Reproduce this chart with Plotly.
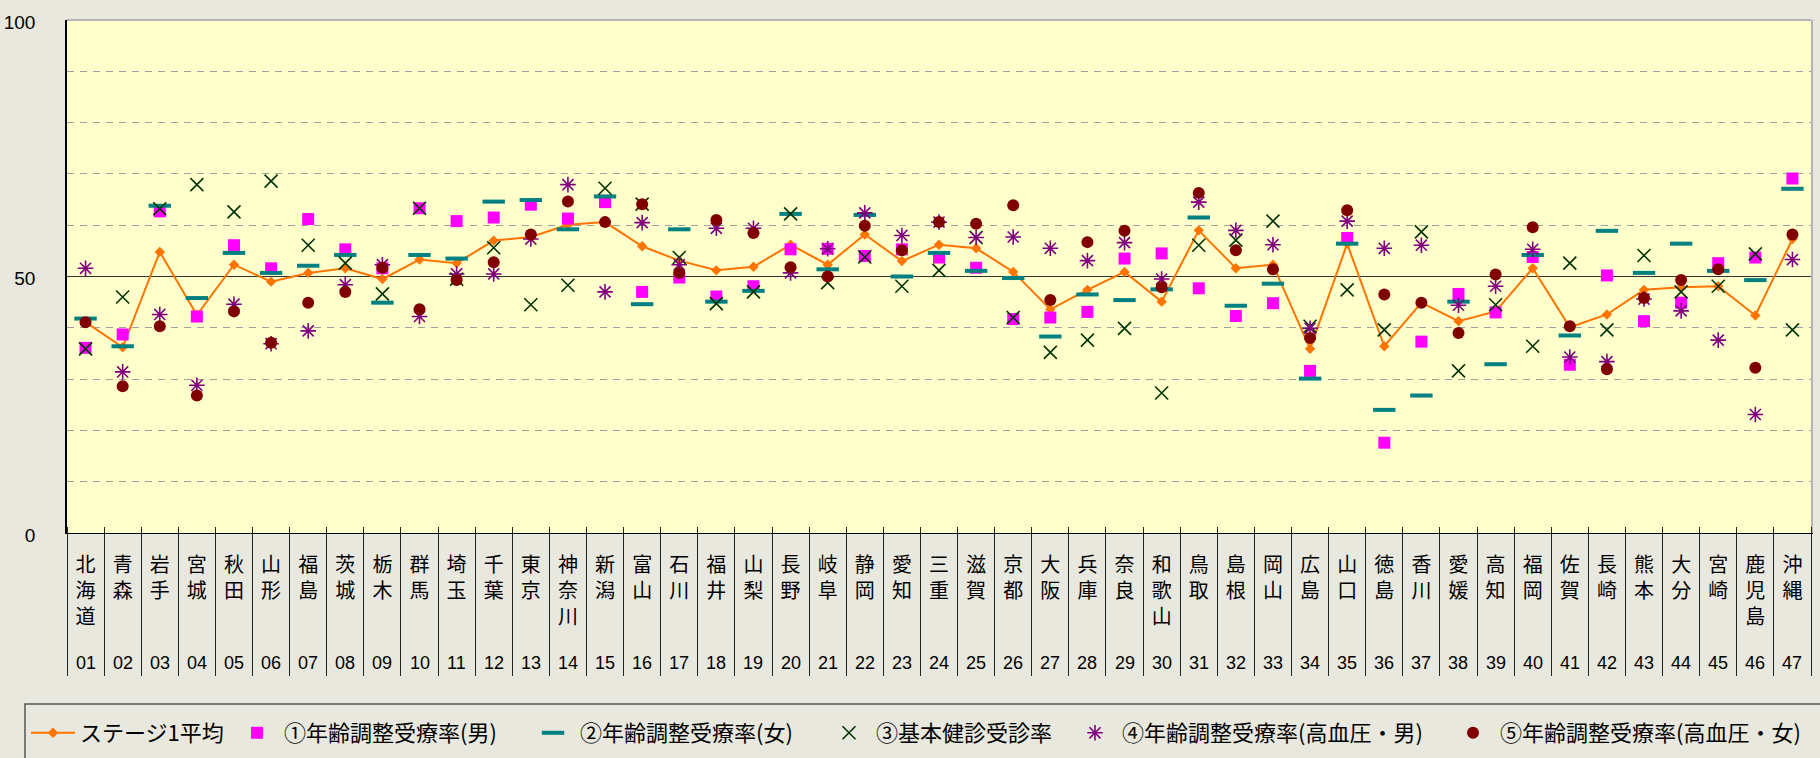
import plotly.graph_objects as go

prefectures = ["北海道", "青森", "岩手", "宮城", "秋田", "山形", "福島", "茨城", "栃木", "群馬",
               "埼玉", "千葉", "東京", "神奈川", "新潟", "富山", "石川", "福井", "山梨", "長野",
               "岐阜", "静岡", "愛知", "三重", "滋賀", "京都", "大阪", "兵庫", "奈良", "和歌山",
               "鳥取", "島根", "岡山", "広島", "山口", "徳島", "香川", "愛媛", "高知", "福岡",
               "佐賀", "長崎", "熊本", "大分", "宮崎", "鹿児島", "沖縄"]
codes = ["%02d" % (i + 1) for i in range(47)]

stage1_avg = [41.1, 36.2, 54.8, 42.5, 52.3, 49.0, 50.7, 51.6, 49.5, 53.3,
              52.6, 57.0, 57.7, 60.1, 60.6, 55.9, 53.1, 51.2, 51.9, 56.2,
              52.3, 58.2, 53.0, 56.2, 55.5, 50.9, 43.6, 47.4, 50.9, 45.1,
              59.0, 51.6, 52.3, 35.9, 56.4, 36.4, 44.9, 41.3, 43.2, 51.6,
              40.1, 42.6, 47.4, 47.9, 48.1, 42.4, 57.3]
rate_male = [36.1, 38.7, 62.7, 42.2, 56.1, 51.6, 61.2, 55.3, 51.6, 63.3,
             60.8, 61.5, 64.0, 61.3, 64.5, 47.0, 49.8, 46.1, 48.1, 55.3,
             55.4, 54.0, 55.3, 53.7, 51.7, 41.7, 42.0, 43.1, 53.5, 54.5,
             47.7, 42.3, 44.8, 31.6, 57.5, 17.6, 37.3, 46.6, 43.0, 53.8,
             32.8, 50.2, 41.3, 44.9, 52.6, 53.7, 69.1]
rate_female = [41.8, 36.4, 63.8, 45.8, 54.6, 50.7, 52.1, 54.2, 44.9, 54.2,
               53.5, 64.6, 64.9, 59.2, 65.6, 44.6, 59.2, 45.1, 47.2, 62.2,
               51.4, 62.0, 50.0, 54.6, 51.1, 49.7, 38.3, 46.5, 45.4, 47.5,
               61.5, 44.3, 48.6, 30.1, 56.4, 24.0, 26.8, 45.1, 32.9, 54.2,
               38.5, 58.9, 50.7, 56.4, 51.1, 49.3, 67.1]
checkup_rate = [35.9, 46.0, 63.2, 67.9, 62.6, 68.6, 56.1, 52.6, 46.6, 63.3,
                49.5, 55.6, 44.5, 48.3, 67.2, 64.1, 53.7, 44.7, 47.0, 62.2,
                48.8, 53.8, 48.1, 51.2, 57.6, 42.0, 35.2, 37.6, 39.9, 27.3,
                56.1, 57.1, 60.8, 40.3, 47.4, 39.6, 58.7, 31.6, 44.5, 36.4,
                52.6, 39.6, 54.1, 47.0, 48.1, 54.4, 39.6]
hbp_male = [51.6, 31.4, 42.6, 28.8, 44.6, 36.9, 39.4, 48.4, 52.3, 42.2,
            50.5, 50.5, 57.3, 67.9, 47.0, 60.5, 52.3, 59.4, 59.4, 50.7,
            55.4, 62.4, 58.0, 60.6, 57.6, 57.7, 55.5, 53.1, 56.6, 49.5,
            64.5, 59.0, 56.2, 39.9, 60.8, 55.5, 56.1, 44.4, 48.1, 55.3,
            34.3, 33.4, 45.6, 43.3, 37.6, 23.1, 53.3]
hbp_female = [41.1, 28.6, 40.3, 26.8, 43.2, 37.1, 44.9, 47.0, 51.7, 43.6,
              49.3, 52.8, 58.2, 64.6, 60.6, 64.1, 50.7, 61.0, 58.5, 51.8,
              50.0, 59.9, 55.1, 60.6, 60.3, 63.9, 45.4, 56.7, 58.9, 47.9,
              66.3, 55.1, 51.4, 38.0, 62.9, 46.5, 44.9, 39.0, 50.4, 59.6,
              40.3, 31.9, 45.8, 49.3, 51.4, 32.2, 58.2]

series_names = ["ステージ1平均", "①年齢調整受療率(男)", "②年齢調整受療率(女)",
                "③基本健診受診率", "④年齢調整受療率(高血圧・男)", "⑤年齢調整受療率(高血圧・女)"]
y_ticks = list(range(0, 101, 10))
y_ticklabels = ["0" if v == 0 else "50" if v == 50 else "100" if v == 100 else "" for v in y_ticks]
REF_LINE = [50]

idx = list(range(len(prefectures)))
boundaries = [i - 0.5 for i in range(len(prefectures) + 1)]
names_stacked = ["<br>".join(list(n)) for n in prefectures]

W, H = 1820, 758
ML, MR, MT, MB = 67, 9, 20, 225
plot_w = W - ML - MR
plot_h = H - MT - MB

# legend entry symbol centres (px) along the legend row
legend_symbol_px = [52, 256, 552, 848, 1094, 1472]
LEGEND_ITEMWIDTH = 44
LEGEND_TOP_PX = 712
CODE_ROW_PX = 663


def px_to_paper_x(px):
    return (px - ML) / plot_w


def px_to_paper_y(py):
    return (H - MB - py) / plot_h


PAPER = "#E8E8DE"
PLOT_BG = "#FFFFCC"
CJK = "Noto Sans CJK JP"
LAT = "Liberation Sans"
legend_ids = ["legend", "legend2", "legend3", "legend4", "legend5", "legend6"]

fig = go.Figure()
fig.add_trace(go.Scatter(x=idx, y=stage1_avg, name=series_names[0], mode="lines+markers",
                         line=dict(color="#FF7400", width=2), legend=legend_ids[0],
                         marker=dict(symbol="diamond", size=8, color="#FF7400")))
fig.add_trace(go.Scatter(x=idx, y=rate_male, name=series_names[1], mode="markers",
                         legend=legend_ids[1],
                         marker=dict(symbol="square", size=12, color="#FF00FF")))
fig.add_trace(go.Scatter(x=idx, y=rate_female, name=series_names[2], mode="markers",
                         legend=legend_ids[2],
                         marker=dict(symbol="line-ew", size=16, color="#008080",
                                     line=dict(color="#008080", width=4))))
fig.add_trace(go.Scatter(x=idx, y=checkup_rate, name=series_names[3], mode="markers",
                         legend=legend_ids[3],
                         marker=dict(symbol="x-thin", size=13, color="#003300",
                                     line=dict(color="#003300", width=1.6))))
fig.add_trace(go.Scatter(x=idx, y=hbp_male, name=series_names[4], mode="markers",
                         legend=legend_ids[4],
                         marker=dict(symbol="asterisk", size=13, color="#800080",
                                     line=dict(color="#800080", width=1.6))))
fig.add_trace(go.Scatter(x=idx, y=hbp_female, name=series_names[5], mode="markers",
                         legend=legend_ids[5],
                         marker=dict(symbol="circle", size=12, color="#800000")))
# invisible helper trace so that the overlay axes are drawn
fig.add_trace(go.Scatter(x=idx, y=stage1_avg, xaxis="x2", yaxis="y2", mode="lines",
                         opacity=0, showlegend=False, hoverinfo="skip"))

legend_layouts = {}
for lid, cx in zip(legend_ids, legend_symbol_px):
    legend_layouts[lid] = dict(
        orientation="h", xref="container", yref="container",
        x=(cx - (LEGEND_ITEMWIDTH + 10) / 2 + 1) / W, y=(H - LEGEND_TOP_PX) / H,
        xanchor="left", yanchor="top",
        bgcolor="rgba(0,0,0,0)", borderwidth=0, itemwidth=LEGEND_ITEMWIDTH,
        font=dict(family=CJK, size=22, color="#000000"))

# prefecture code row under the names
code_annotations = [dict(x=i, y=px_to_paper_y(CODE_ROW_PX), xref="x", yref="paper",
                         text=c, showarrow=False, xanchor="center", yanchor="middle",
                         font=dict(family=LAT, size=18, color="#000000"))
                    for i, c in zip(idx, codes)]

fig.update_layout(
    width=W, height=H,
    margin=dict(l=ML, r=MR, t=MT, b=MB, autoexpand=False),
    paper_bgcolor=PAPER, plot_bgcolor=PLOT_BG,
    showlegend=True,
    xaxis=dict(range=[-0.5, len(prefectures) - 0.5], tickmode="array", tickvals=idx,
               ticktext=names_stacked, ticks="", showgrid=False, zeroline=False,
               showline=True, linecolor="#000000", linewidth=1,
               tickfont=dict(family=CJK, size=20, color="#000000"),
               tickangle=0, ticklabelstandoff=14),
    xaxis2=dict(overlaying="x", anchor="free", position=7.5 / plot_h,
                range=[-0.5, len(prefectures) - 0.5], tickmode="array", tickvals=boundaries,
                ticks="outside", ticklen=149, tickcolor="#222222", tickwidth=1,
                showticklabels=False, showgrid=False, zeroline=False, showline=False),
    yaxis=dict(range=[0, 100], tickmode="array", tickvals=y_ticks, ticktext=y_ticklabels,
               showgrid=True, gridcolor="#A0A0A0", gridwidth=1, griddash="7px,6px",
               zeroline=False, showline=True, linecolor="#000000", linewidth=1.5,
               ticks="", ticklabelstandoff=26, ticklabelshift=2,
               tickfont=dict(family=LAT, size=19, color="#000000")),
    yaxis2=dict(overlaying="y", range=[0, 100], tickmode="array", tickvals=REF_LINE,
                showgrid=True, gridcolor="#333333", gridwidth=1, zeroline=False,
                showticklabels=False, showline=True, linecolor="#B4B4B4", linewidth=2,
                side="right", ticks=""),
    shapes=[
        dict(type="line", xref="paper", yref="paper", x0=0, x1=1, y0=1, y1=1,
             line=dict(color="#B4B4B4", width=2), layer="below"),
        dict(type="rect", xref="paper", yref="paper",
             x0=px_to_paper_x(25), x1=px_to_paper_x(W + 20),
             y0=px_to_paper_y(704), y1=px_to_paper_y(H + 20),
             line=dict(color="#555555", width=1.5), fillcolor="rgba(0,0,0,0)", layer="above"),
    ],
    annotations=code_annotations,
    **legend_layouts,
)

fig.write_html("out.html", config={"displayModeBar": False},
               post_script="document.body.style.margin='0';")
